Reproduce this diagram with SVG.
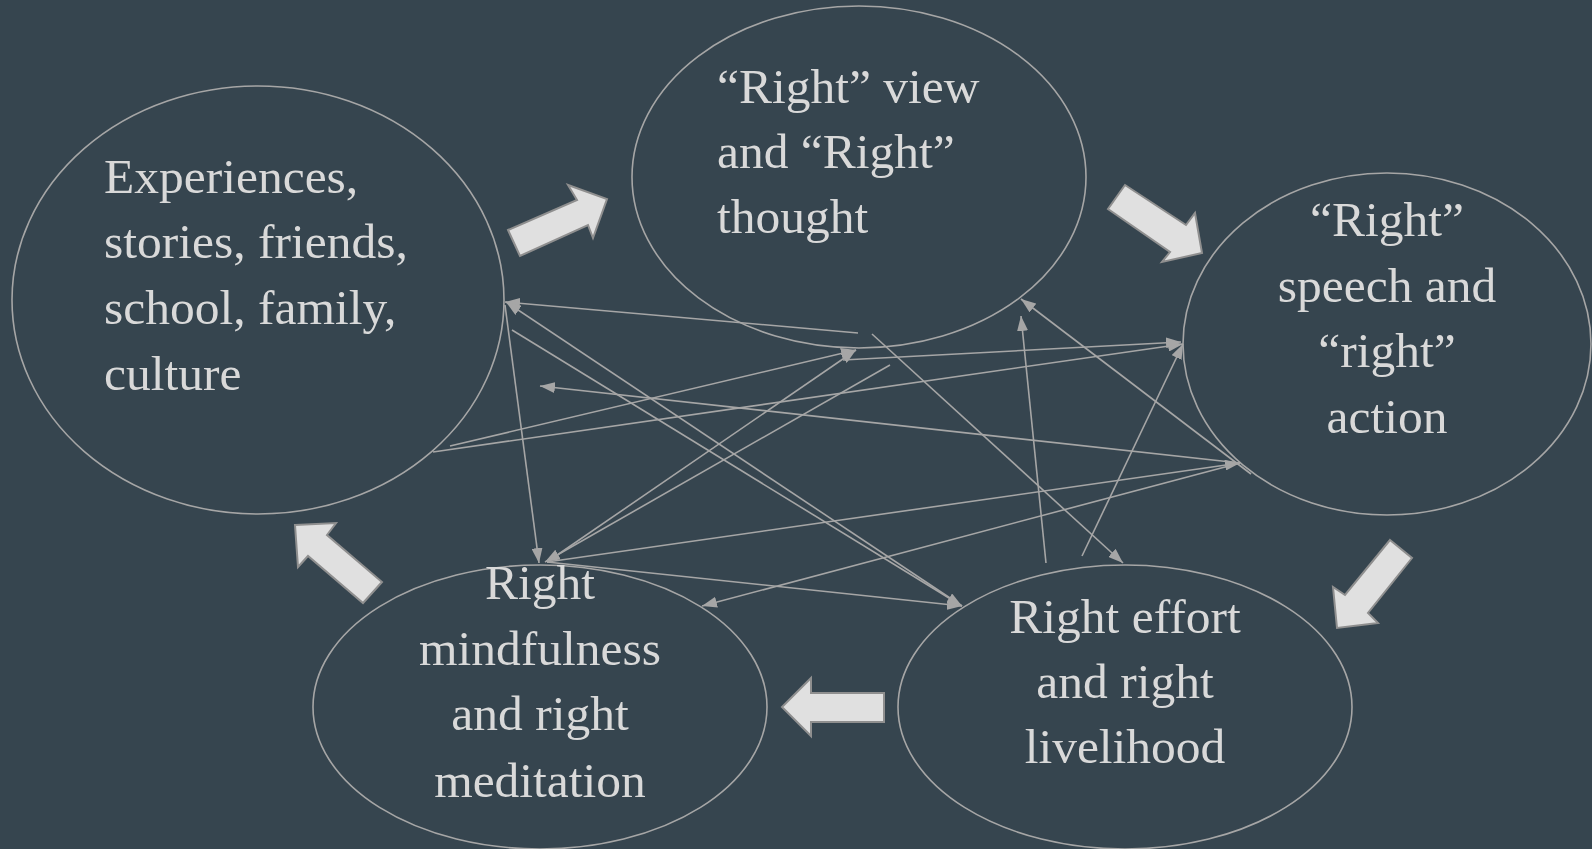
<svg xmlns="http://www.w3.org/2000/svg" width="1592" height="849" viewBox="0 0 1592 849">
  <style>
    .bg { fill: #36454f; }
    .node ellipse { fill: none; stroke: #a6a6a6; stroke-width: 1.6; }
    .label { font-family: "Liberation Serif", "DejaVu Serif", serif; font-size: 49.5px; fill: #d9d9d9; }
    .mid { text-anchor: middle; }
    .link { stroke: #a6a6a6; stroke-width: 1.6; fill: none; marker-end: url(#tip); }
    .block { fill: #e0e0e0; stroke: #8f8f8f; stroke-width: 2; stroke-linejoin: miter; }
  </style>
  <defs>
    <marker id="tip" markerUnits="userSpaceOnUse" viewBox="0 0 15 11" refX="15" refY="5.5" markerWidth="15" markerHeight="11" orient="auto">
      <path d="M0,0 L15,5.5 L0,11 z" fill="#a6a6a6"/>
    </marker>
  </defs>

  <rect class="bg" x="0" y="0" width="1592" height="849"/>

  <!-- thin cross-links between the five ellipses -->
  <g id="connectors">
    <line class="link" x1="858" y1="333" x2="505" y2="302"/>
    <line class="link" x1="450" y1="446" x2="856" y2="350"/>
    <line class="link" x1="433" y1="452" x2="1183" y2="344"/>
    <line class="link" x1="843" y1="360" x2="1181" y2="342"/>
    <line class="link" x1="547" y1="562" x2="856" y2="350"/>
    <line class="link" x1="890" y1="365" x2="545" y2="562"/>
    <line class="link" x1="505" y1="305" x2="539" y2="563"/>
    <line class="link" x1="1240" y1="463" x2="540" y2="386"/>
    <line class="link" x1="547" y1="562" x2="1240" y2="463"/>
    <line class="link" x1="1240" y1="463" x2="702" y2="606"/>
    <line class="link" x1="1251" y1="474" x2="1021" y2="299"/>
    <line class="link" x1="872" y1="334" x2="1123" y2="563"/>
    <line class="link" x1="1046" y1="563" x2="1021" y2="316"/>
    <line class="link" x1="1082" y1="556" x2="1183" y2="344"/>
    <line class="link" x1="547" y1="562" x2="962" y2="606"/>
    <line class="link" x1="962" y1="606" x2="506" y2="302"/>
    <line class="link" x1="512" y1="330" x2="962" y2="606"/>
  </g>

  <!-- big block arrows forming the cycle -->
  <g id="cycle-arrows">
    <polygon class="block" points="508,230 577,200 568,185 607,199 593,238 588,225 520,256"/>
    <polygon class="block" points="1125,185 1186,225 1195,213 1202,253 1162,262 1170,252 1108,209"/>
    <polygon class="block" points="1390,540 1412,558 1368,613 1378,623 1337,628 1333,587 1345,595"/>
    <polygon class="block" points="884,693 811,693 811,678 782,707 811,736 811,722 884,722"/>
    <polygon class="block" points="295,525 336,523 327,535 382,582 363,603 308,556 298,567"/>
  </g>

  <g id="node-experiences" class="node">
    <ellipse cx="258" cy="300" rx="246" ry="214"/>
    <text class="label" x="104" y="193">Experiences,</text>
    <text class="label" x="104" y="258">stories, friends,</text>
    <text class="label" x="104" y="324">school, family,</text>
    <text class="label" x="104" y="390">culture</text>
  </g>

  <g id="node-view-thought" class="node">
    <ellipse cx="859" cy="177" rx="227" ry="171"/>
    <text class="label" x="717" y="103">“Right” view</text>
    <text class="label" x="717" y="168">and “Right”</text>
    <text class="label" x="717" y="233">thought</text>
  </g>

  <g id="node-speech-action" class="node">
    <ellipse cx="1387" cy="344" rx="204" ry="171"/>
    <text class="label mid" x="1387" y="236">“Right”</text>
    <text class="label mid" x="1387" y="302">speech and</text>
    <text class="label mid" x="1387" y="367">“right”</text>
    <text class="label mid" x="1387" y="433">action</text>
  </g>

  <g id="node-mindfulness" class="node">
    <ellipse cx="540" cy="707" rx="227" ry="142"/>
    <text class="label mid" x="540" y="599">Right</text>
    <text class="label mid" x="540" y="665">mindfulness</text>
    <text class="label mid" x="540" y="730">and right</text>
    <text class="label mid" x="540" y="797">meditation</text>
  </g>

  <g id="node-effort" class="node">
    <ellipse cx="1125" cy="707" rx="227" ry="142"/>
    <text class="label mid" x="1125" y="633">Right effort</text>
    <text class="label mid" x="1125" y="698">and right</text>
    <text class="label mid" x="1125" y="763">livelihood</text>
  </g>
</svg>
